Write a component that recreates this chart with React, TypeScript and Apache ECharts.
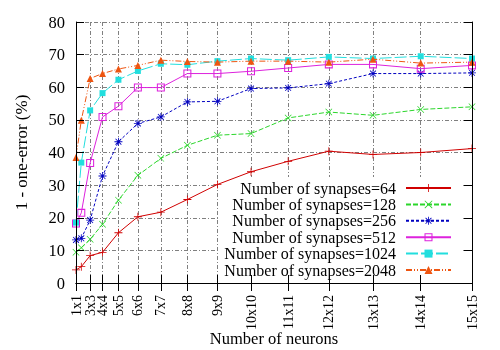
import React, { useEffect, useRef } from "react";
import * as echarts from "echarts";

// Number of neurons (n x n) for each measured point
const neuronCounts = [1, 4, 9, 16, 25, 36, 49, 64, 81, 100, 121, 144, 169, 196, 225];
// Tick positions shown on the x axis (2x2 is not labelled)
const xTickValues = [1, 9, 16, 25, 36, 49, 64, 81, 100, 121, 144, 169, 196, 225];

const seriesNames = [
  "Number of synapses=64",
  "Number of synapses=128",
  "Number of synapses=256",
  "Number of synapses=512",
  "Number of synapses=1024",
  "Number of synapses=2048",
];

const syn64 = [4.0, 5.0, 8.4, 9.4, 15.4, 20.3, 21.7, 25.6, 30.2, 34.1, 37.3, 40.4, 39.4, 40.0, 41.2];
const syn128 = [9.4, 10.8, 13.4, 18.0, 25.4, 33.0, 38.2, 42.2, 45.3, 45.8, 50.6, 52.4, 51.4, 53.2, 54.0];
const syn256 = [13.2, 13.7, 19.3, 32.8, 43.3, 48.9, 50.9, 55.5, 55.7, 59.6, 59.8, 61.1, 64.2, 64.2, 64.4];
const syn512 = [18.2, 21.5, 36.8, 50.9, 54.2, 59.9, 59.9, 64.2, 64.2, 64.9, 65.9, 67.0, 67.0, 65.7, 66.7];
const syn1024 = [18.5, 36.9, 52.9, 58.2, 62.3, 65.0, 67.2, 66.9, 68.0, 68.8, 68.3, 69.3, 68.8, 69.5, 68.8];
const syn2048 = [38.5, 49.9, 62.7, 64.2, 65.6, 66.7, 68.3, 67.9, 67.7, 68.0, 68.0, 67.7, 68.6, 67.4, 67.7];

const FONT = "'Liberation Serif', 'Times New Roman', serif";

const PLUS = "path://M4.5,0H5.5V10H4.5Z M0,4.5H10V5.5H0Z";
const CROSS = "path://M0,0.7L0.7,0L10,9.3L9.3,10Z M9.3,0L10,0.7L0.7,10L0,9.3Z";
const STAR =
  "path://M4.5,0H5.5V10H4.5Z M0,4.5H10V5.5H0Z M1,1.7L1.7,1L9,8.3L8.3,9Z M8.3,1L9,1.7L1.7,9L1,8.3Z";
const OPEN_SQUARE = "path://M0,0H10V10H0Z M1.3,1.3V8.7H8.7V1.3Z";

export default function App() {
  const ref = useRef<HTMLDivElement>(null);

  useEffect(() => {
    if (!ref.current) return;
    const chart = echarts.init(ref.current, null, { renderer: "svg" });

    const valueSets = [syn64, syn128, syn256, syn512, syn1024, syn2048];
    const colors = ["#d00000", "#2bd62b", "#0000c0", "#dd22dd", "#22dede", "#ee5511"];
    const dashes: any[] = ["solid", [5, 2], [3, 2], "solid", [12, 3], [6, 2, 1, 2, 1, 2]];
    const symbols = [PLUS, CROSS, STAR, OPEN_SQUARE, "rect", "triangle"];
    const symbolSizes = [8, 7, 8, 8, 6, 7];

    const series = valueSets.map((vals, i) => ({
      name: seriesNames[i],
      type: "line",
      xAxisIndex: 0,
      yAxisIndex: 0,
      data: neuronCounts.map((n, j) => [n, vals[j]]),
      symbol: symbols[i],
      symbolSize: symbolSizes[i],
      showAllSymbol: true,
      lineStyle: { color: colors[i], width: 1, type: dashes[i] },
      itemStyle: { color: colors[i], borderWidth: 0 },
      z: 6 + i,
    }));

    const gridLine = { show: true, lineStyle: { color: "#808080", width: 1, type: [4, 2, 1, 2] } };
    const frameLine = { show: true, lineStyle: { color: "#000", width: 1 } };
    const tickStyle = { show: true, inside: true, length: 8, lineStyle: { color: "#000", width: 1 } };

    const xBase = { type: "value", min: 1, max: 225 };
    const yBase = { type: "value", min: 0, max: 80, interval: 10 };

    chart.setOption({
      animation: false,
      textStyle: { fontFamily: FONT },
      grid: {
        left: 76,
        right: 28,
        top: 22,
        bottom: 67,
        containLabel: false,
        outerBoundsMode: "none",
      },
      xAxis: [
        {
          ...xBase,
          position: "bottom",
          z: 12,
          axisLine: frameLine,
          axisTick: { ...tickStyle, customValues: xTickValues },
          axisLabel: {
            customValues: xTickValues,
            rotate: 90,
            margin: 12,
            color: "#000",
            fontFamily: FONT,
            fontSize: 14,
            showMinLabel: true,
            showMaxLabel: true,
            hideOverlap: false,
            formatter: (v: number) => {
              const n = Math.round(Math.sqrt(v));
              return `${n}x${n}`;
            },
          },
          splitLine: { show: false },
          name: "Number of neurons",
          nameLocation: "middle",
          nameGap: 47,
          nameMoveOverlap: false,
          nameTextStyle: { color: "#000", fontFamily: FONT, fontSize: 16.5 },
        },
        {
          ...xBase,
          position: "top",
          z: 12,
          axisLine: frameLine,
          axisTick: { ...tickStyle, customValues: xTickValues },
          axisLabel: { show: false },
          splitLine: { show: false },
        },
        {
          ...xBase,
          position: "bottom",
          z: 0,
          axisLine: { show: false },
          axisTick: { show: false, customValues: xTickValues },
          axisLabel: { show: false, customValues: xTickValues },
          splitLine: gridLine,
        },
      ],
      yAxis: [
        {
          ...yBase,
          position: "left",
          z: 12,
          axisLine: frameLine,
          axisTick: tickStyle,
          axisLabel: { margin: 11, color: "#000", fontFamily: FONT, fontSize: 16.5 },
          splitLine: { show: false },
          name: "1 - one-error (%)",
          nameLocation: "middle",
          nameGap: 46,
          nameMoveOverlap: false,
          nameTextStyle: { color: "#000", fontFamily: FONT, fontSize: 17 },
        },
        {
          ...yBase,
          position: "right",
          z: 12,
          axisLine: frameLine,
          axisTick: tickStyle,
          axisLabel: { show: false },
          splitLine: { show: false },
        },
        {
          ...yBase,
          position: "left",
          z: 0,
          axisLine: { show: false },
          axisTick: { show: false },
          axisLabel: { show: false },
          splitLine: gridLine,
        },
      ],
      legend: {
        orient: "vertical",
        right: 38,
        bottom: 67,
        align: "right",
        itemWidth: 45,
        itemHeight: 10,
        itemGap: 0.4,
        padding: [3, 10, 5, 6],
        backgroundColor: "#fff",
        z: 5,
        selectedMode: false,
        textStyle: {
          color: "#000",
          fontFamily: FONT,
          fontSize: 16,
          lineHeight: 14,
          padding: [0, 5, 0, 0],
        },
        data: seriesNames,
      },
      series,
    });

    return () => chart.dispose();
  }, []);

  return (
    <div
      ref={ref}
      style={{ position: "fixed", left: 0, top: 0, width: 500, height: 350 }}
    />
  );
}
